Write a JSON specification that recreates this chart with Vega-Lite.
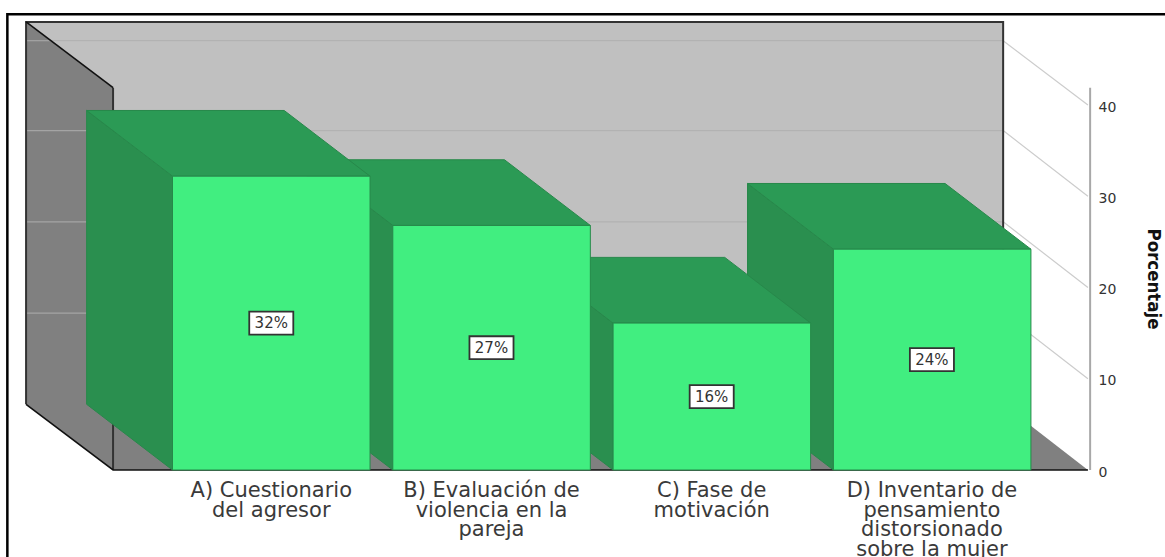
{
"$schema":"https://vega.github.io/schema/vega-lite/v6.json",
"width":1165,"height":557,"padding":0,"autosize":{"type":"none"},"background":"white",
"config":{"view":{"stroke":null}},
"resolve":{"scale":{"fill":"independent"}},
"datasets":{
"bars":[
{"category":"D) Inventario de\npensamiento\ndistorsionado\nsobre la mujer","label":"24%","value":24.2,"slot":3},
{"category":"C) Fase de\nmotivación","label":"16%","value":16.1,"slot":2},
{"category":"B) Evaluación de\nviolencia en la\npareja","label":"27%","value":26.8,"slot":1},
{"category":"A) Cuestionario\ndel agresor","label":"32%","value":32.2,"slot":0}
],
"walls":[
{"shape":"back","v":0,"px":-0.665,"py":7.2},{"shape":"back","v":1,"px":3.772,"py":7.2},{"shape":"back","v":2,"px":3.772,"py":49.1},{"shape":"back","v":3,"px":-0.665,"py":49.1},
{"shape":"floor","v":0,"px":-0.665,"py":7.2},{"shape":"floor","v":1,"px":3.772,"py":7.2},{"shape":"floor","v":2,"px":4.157,"py":0},{"shape":"floor","v":3,"px":-0.27,"py":0},
{"shape":"left","v":0,"px":-0.665,"py":7.2},{"shape":"left","v":1,"px":-0.27,"py":0},{"shape":"left","v":2,"px":-0.27,"py":41.9},{"shape":"left","v":3,"px":-0.665,"py":49.1}
],
"lines":[
{"id":"w40","kind":"gridLeft","v":0,"px":-0.665,"py":47.05},{"id":"w40","kind":"gridLeft","v":1,"px":-0.55,"py":47.05},
{"id":"w30","kind":"gridLeft","v":0,"px":-0.665,"py":37.2},{"id":"w30","kind":"gridLeft","v":1,"px":-0.27,"py":37.2},
{"id":"w20","kind":"gridLeft","v":0,"px":-0.665,"py":27.2},{"id":"w20","kind":"gridLeft","v":1,"px":-0.27,"py":27.2},
{"id":"w10","kind":"gridLeft","v":0,"px":-0.665,"py":17.2},{"id":"w10","kind":"gridLeft","v":1,"px":-0.27,"py":17.2},
{"id":"b40","kind":"gridBack","v":0,"px":-0.55,"py":47.05},{"id":"b40","kind":"gridBack","v":1,"px":3.772,"py":47.05},
{"id":"b30","kind":"gridBack","v":0,"px":-0.27,"py":37.2},{"id":"b30","kind":"gridBack","v":1,"px":3.772,"py":37.2},
{"id":"b20","kind":"gridBack","v":0,"px":-0.27,"py":27.2},{"id":"b20","kind":"gridBack","v":1,"px":3.772,"py":27.2},
{"id":"b10","kind":"gridBack","v":0,"px":-0.27,"py":17.2},{"id":"b10","kind":"gridBack","v":1,"px":3.772,"py":17.2},
{"id":"d40","kind":"gridSide","v":0,"px":3.772,"py":47.05},{"id":"d40","kind":"gridSide","v":1,"px":4.157,"py":40},
{"id":"d30","kind":"gridSide","v":0,"px":3.772,"py":37.2},{"id":"d30","kind":"gridSide","v":1,"px":4.157,"py":30},
{"id":"d20","kind":"gridSide","v":0,"px":3.772,"py":27.2},{"id":"d20","kind":"gridSide","v":1,"px":4.157,"py":20},
{"id":"d10","kind":"gridSide","v":0,"px":3.772,"py":17.2},{"id":"d10","kind":"gridSide","v":1,"px":4.157,"py":10},
{"id":"axis","kind":"axis","v":0,"px":4.167,"py":0},{"id":"axis","kind":"axis","v":1,"px":4.167,"py":41.9},
{"id":"backEdge","kind":"edge","v":0,"px":-0.665,"py":7.2},{"id":"backEdge","kind":"edge","v":1,"px":-0.665,"py":49.1},{"id":"backEdge","kind":"edge","v":2,"px":3.772,"py":49.1},{"id":"backEdge","kind":"edge","v":3,"px":3.772,"py":7.2},
{"id":"wallFront","kind":"edge","v":0,"px":-0.27,"py":41.9},{"id":"wallFront","kind":"edge","v":1,"px":-0.27,"py":0},
{"id":"topDiag","kind":"black","v":0,"px":-0.665,"py":49.1},{"id":"topDiag","kind":"black","v":1,"px":-0.27,"py":41.9},
{"id":"botDiag","kind":"black","v":0,"px":-0.665,"py":7.2},{"id":"botDiag","kind":"black","v":1,"px":-0.27,"py":0},{"id":"botDiag","kind":"black","v":2,"px":4.157,"py":0},
{"id":"frame","kind":"frame","v":0,"px":-0.75,"py":-9.6},{"id":"frame","kind":"frame","v":1,"px":-0.75,"py":49.95},{"id":"frame","kind":"frame","v":2,"px":4.51,"py":49.95}
]
},
"encoding":{
"x":{"field":"px","type":"quantitative","scale":{"domain":[-0.7834,4.507],"nice":false,"zero":false},"axis":null},
"y":{"field":"py","type":"quantitative","scale":{"domain":[-9.534,51.507],"nice":false,"zero":false},
"axis":{"orient":"right","offset":-75,"values":[0,10,20,30,40],"grid":false,"domain":false,"ticks":false,"labelPadding":8,"labelOffset":2,"labelFont":"DejaVu Sans","labelFontSize":14,"labelColor":"#333333","labelFlush":false,"title":"Porcentaje","titleFont":"DejaVu Sans Condensed","titleFontSize":18.5,"titleFontWeight":"bold","titleColor":"#111111","titleAngle":90,"titleAlign":"center","titleBaseline":"middle","titleX":63,"titleY":278.5}}
},
"layer":[
{"data":{"name":"walls"},
"mark":{"type":"line","interpolate":"linear-closed","strokeWidth":0},
"encoding":{"detail":{"field":"shape"},"order":{"field":"v"},
"fill":{"field":"shape","type":"nominal","legend":null,"scale":{"domain":["back","floor","left"],"range":["#c0c0c0","#808080","#808080"]}}}},
{"data":{"name":"lines"},
"mark":{"type":"line"},
"encoding":{"detail":{"field":"id"},"order":{"field":"v"},
"stroke":{"field":"kind","type":"nominal","legend":null,"scale":{"domain":["gridLeft","gridBack","gridSide","axis","edge","black","frame"],"range":["#a4a4a4","#b2b2b2","#cccccc","#a8a8a8","#333333","#111111","#000000"]}},
"strokeWidth":{"field":"kind","type":"nominal","legend":null,"scale":{"type":"ordinal","domain":["gridLeft","gridBack","gridSide","axis","edge","black","frame"],"range":[1.2,1.2,1.2,2,2,1.6,2.5]}}}},
{"data":{"name":"bars"},
"transform":[
{"calculate":"['side','top','front']","as":"face"},{"flatten":["face"]},
{"calculate":"[0,1,2,3]","as":"v"},{"flatten":["v"]},
{"calculate":"datum.slot*1.0004","as":"xl"},
{"calculate":"datum.xl+0.897","as":"xr"},
{"calculate":"datum.face==='front'?[datum.xl,datum.xr,datum.xr,datum.xl][datum.v]:datum.face==='side'?[datum.xl,datum.xl,datum.xl-0.39,datum.xl-0.39][datum.v]:[datum.xl,datum.xr,datum.xr-0.39,datum.xl-0.39][datum.v]","as":"px"},
{"calculate":"datum.face==='front'?[0,0,datum.value,datum.value][datum.v]:datum.face==='side'?[0,datum.value,datum.value+7.2,7.2][datum.v]:[datum.value,datum.value,datum.value+7.2,datum.value+7.2][datum.v]","as":"py"},
{"calculate":"datum.category+datum.face","as":"poly"}
],
"mark":{"type":"line","interpolate":"linear-closed","stroke":"#27884a","strokeWidth":1},
"encoding":{"detail":{"field":"poly"},"order":{"field":"v"},
"fill":{"field":"face","type":"nominal","legend":null,"scale":{"domain":["side","top","front"],"range":["#2a8f4f","#2b9a55","#41ee80"]}}}},
{"data":{"name":"bars"},
"transform":[{"calculate":"datum.slot+0.4485-0.1","as":"px"},{"calculate":"datum.slot+0.4485+0.1","as":"bx2"},{"calculate":"datum.value/2-1.26","as":"py"},{"calculate":"datum.value/2+1.26","as":"by2"}],
"mark":{"type":"rect","fill":"white","stroke":"#333333","strokeWidth":1.8},
"encoding":{"x2":{"field":"bx2"},"y2":{"field":"by2"}}},
{"data":{"name":"bars"},
"transform":[{"calculate":"datum.slot+0.4485","as":"px"},{"calculate":"datum.value/2","as":"py"}],
"mark":{"type":"text","font":"DejaVu Sans","fontSize":15,"color":"#333333","align":"center","baseline":"middle"},
"encoding":{"text":{"field":"label"}}},
{"data":{"name":"bars"},
"transform":[{"calculate":"datum.slot+0.4485","as":"px"},{"calculate":"-1.1","as":"py"}],
"mark":{"type":"text","font":"DejaVu Sans","fontSize":21,"color":"#3a3a3a","align":"center","baseline":"top","lineBreak":"\n","lineHeight":19.7},
"encoding":{"text":{"field":"category"}}}
]
}
